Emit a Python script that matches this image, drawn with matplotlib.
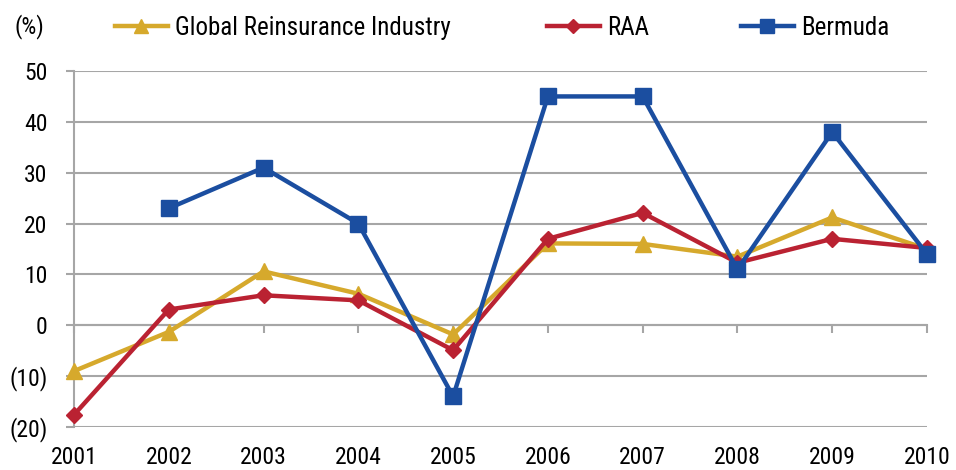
import matplotlib
matplotlib.use("Agg")
import matplotlib.pyplot as plt
from matplotlib.lines import Line2D

plt.rcParams['font.family'] = ['Roboto Condensed', 'DejaVu Sans']

years = ['2001', '2002', '2003', '2004', '2005', '2006', '2007', '2008', '2009', '2010']
global_reins = [-9, -1.3, 10.6, 6.2, -1.8, 16.1, 16.0, 13.5, 21.2, 15.0]
raa = [-17.6, 3.1, 5.9, 4.9, -4.9, 17.0, 22.1, 12.3, 17.0, 15.2]
bermuda = [None, 23, 31, 20, -14, 45, 45, 11, 38, 14]
y_ticks = [-20, -10, 0, 10, 20, 30, 40, 50]
y_labels = ['(20)', '(10)', '0', '10', '20', '30', '40', '50']
series_names = ['Global Reinsurance Industry', 'RAA', 'Bermuda']

gold = '#D6A92C'
red = '#BA2232'
blue = '#1B4EA0'
grid_col = '#A6A6A6'

fig = plt.figure(figsize=(9.56, 4.70), dpi=100)
ax = fig.add_axes([74 / 956, 1 - 427 / 470, (927 - 74) / 956, (427 - 71) / 470])

x = list(range(len(years)))
bx = [i for i, v in zip(x, bermuda) if v is not None]
bv = [v for v in bermuda if v is not None]

ax.plot(x, global_reins, color=gold, lw=3.2, marker='^', ms=12, clip_on=False, zorder=3)
ax.plot(x, raa, color=red, lw=3.2, marker='D', ms=8.5, clip_on=False, zorder=4)
ax.plot(bx, bv, color=blue, lw=3.2, marker='s', ms=12, clip_on=False, zorder=5)

ax.set_xlim(0, len(years) - 1)
ax.set_ylim(-20, 50)
ax.set_yticks(y_ticks)
ax.set_yticklabels(y_labels, fontsize=17)
ax.yaxis.grid(True, color=grid_col, lw=1.5)
ax.set_axisbelow(True)

for s in ['top', 'right']:
    ax.spines[s].set_visible(False)
ax.spines['left'].set_color(grid_col)
ax.spines['left'].set_linewidth(1.5)
ax.spines['bottom'].set_position(('data', 0))
ax.spines['bottom'].set_color(grid_col)
ax.spines['bottom'].set_linewidth(1.5)
ax.tick_params(axis='y', length=6, width=1.5, color=grid_col, pad=13)
ax.set_xticks(x)
ax.tick_params(axis='x', length=6, width=1.5, color=grid_col, labelbottom=False)

# year labels sit under the bottom gridline, ticks stay on the zero line
sec = ax.secondary_xaxis('bottom')
sec.set_xticks(x)
sec.set_xticklabels(years, fontsize=17)
sec.spines['bottom'].set_visible(False)
sec.tick_params(length=0, pad=14)

fig.text(15 / 956, 1 - 27 / 470, '(%)', fontsize=17, va='center', ha='left')

handles = [
    Line2D([], [], color=gold, lw=3.2, marker='^', ms=10),
    Line2D([], [], color=red, lw=3.2, marker='D', ms=7),
    Line2D([], [], color=blue, lw=3.2, marker='s', ms=10),
]
legend_x = [115, 547, 741]
for h, name, lx in zip(handles, series_names, legend_x):
    fig.legend([h], [name], loc='center left',
               bbox_to_anchor=(lx / 956, 1 - 28 / 470), frameon=False,
               fontsize=18, handlelength=2.1, handletextpad=0.3,
               borderpad=0, borderaxespad=0)

fig.savefig('out.png', dpi=100)
